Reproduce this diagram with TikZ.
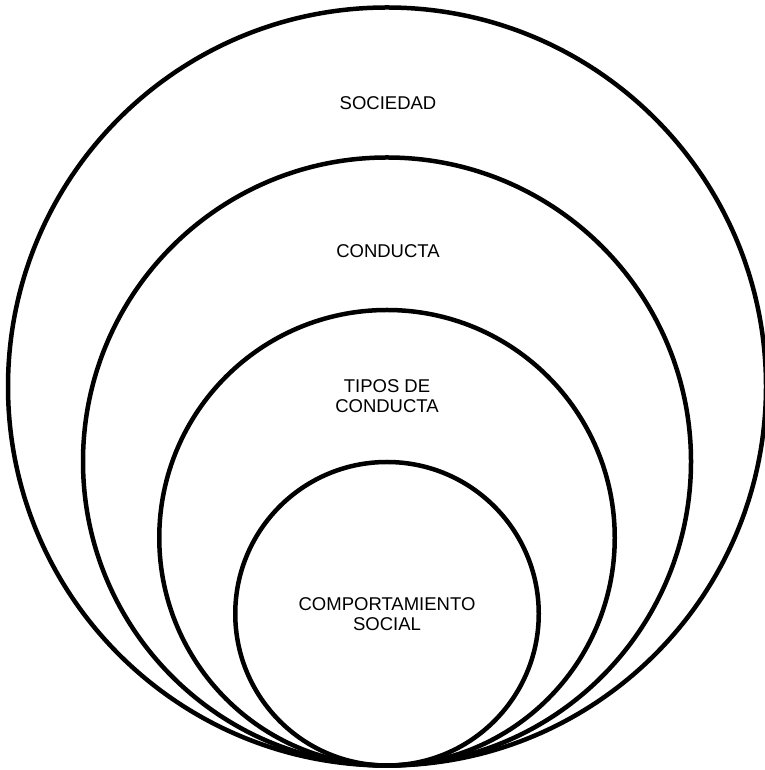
\documentclass[tikz,border=0pt]{standalone}
\usepackage{fontspec}
\setmainfont{Liberation Sans}
\usetikzlibrary{positioning}

\begin{document}
\begin{tikzpicture}[
  x=1pt,y=1pt,
  ring/.style={circle,draw,line width=4.5pt,inner sep=0pt,outer sep=0pt,anchor=south},
  lbl/.style={align=center,font=\fontsize{18.5}{20}\selectfont}
]
\useasboundingbox (0,0) rectangle (764,770);
\coordinate (base) at (387,4.5);
\node[ring,minimum size=758pt] (sociedad) at (base) {};
\node[ring,minimum size=608pt] (conducta) at (base) {};
\node[ring,minimum size=455.5pt] (tipos) at (base) {};
\node[ring,minimum size=303.5pt] (comport) at (base) {};
\node[lbl] (tsociedad) at (388,667) {SOCIEDAD};
\node[lbl] (tconducta) at (388,519) {CONDUCTA};
\node[lbl] (ttipos) at (387,374) {TIPOS DE\\CONDUCTA};
\node[lbl] (tcomport) at (387,156) {COMPORTAMIENTO\\SOCIAL};
\end{tikzpicture}
\end{document}
